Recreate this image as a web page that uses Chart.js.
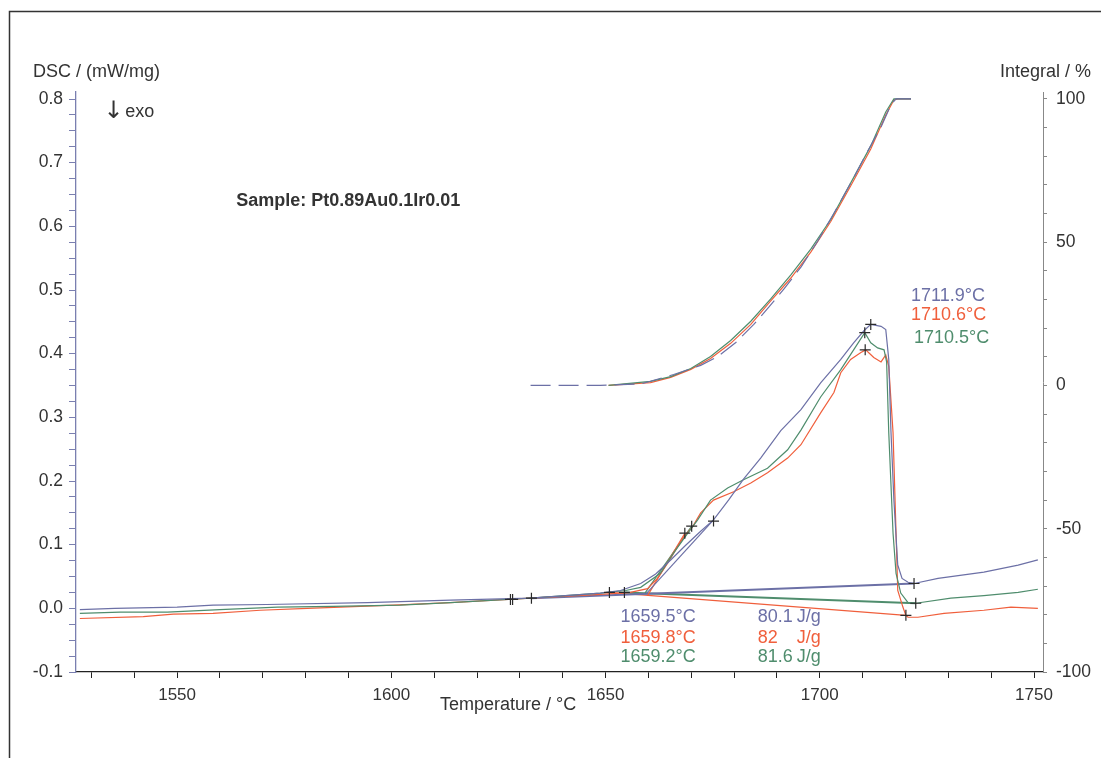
<!DOCTYPE html>
<html>
<head>
<meta charset="utf-8">
<script src="https://cdn.jsdelivr.net/npm/chart.js@4.4.1/dist/chart.umd.min.js"></script>
<style>
  html, body { margin: 0; padding: 0; background: #fff; }
  canvas { display: block; }
</style>
</head>
<body>
<canvas id="dsc" width="1101" height="758"></canvas>
<script>
// DSC curves (temperature / °C, DSC / (mW/mg))
const tBlue = [1527.3, 1535.5, 1550.0, 1558.4, 1571.0, 1594.4, 1613.8, 1632.5, 1648.8, 1653.5, 1658.2, 1661.7, 1665.2, 1668.7, 1672.2, 1675.2, 1678.7, 1682.2, 1686.2, 1690.9, 1695.6, 1700.2, 1704.9, 1707.9, 1710.3, 1711.9, 1714.3, 1715.4, 1716.1, 1716.6, 1717.3, 1718.2, 1719.2, 1720.6, 1722.0, 1727.6, 1738.3, 1746.3, 1750.9];
const dscBlue = [-0.002, 0.000, 0.002, 0.005, 0.006, 0.009, 0.013, 0.016, 0.024, 0.028, 0.039, 0.054, 0.076, 0.099, 0.121, 0.139, 0.170, 0.203, 0.236, 0.279, 0.312, 0.354, 0.391, 0.417, 0.436, 0.446, 0.443, 0.438, 0.391, 0.280, 0.170, 0.068, 0.047, 0.041, 0.039, 0.047, 0.057, 0.068, 0.076];

const tRed = [1527.3, 1542.1, 1549.1, 1558.4, 1569.4, 1580.4, 1588.1, 1600.5, 1613.8, 1632.5, 1648.8, 1655.8, 1659.8, 1662.1, 1664.5, 1668.2, 1670.3, 1672.2, 1675.2, 1679.9, 1683.9, 1687.8, 1692.5, 1695.6, 1700.2, 1703.3, 1704.9, 1707.2, 1709.6, 1710.7, 1712.6, 1714.3, 1715.4, 1716.1, 1717.1, 1717.8, 1718.2, 1719.4, 1720.1, 1720.6, 1722.9, 1729.0, 1738.3, 1744.6, 1750.9];
const dscRed = [-0.016, -0.013, -0.009, -0.008, -0.003, 0.000, 0.002, 0.005, 0.009, 0.016, 0.022, 0.025, 0.031, 0.047, 0.071, 0.112, 0.128, 0.150, 0.170, 0.183, 0.197, 0.213, 0.236, 0.257, 0.307, 0.339, 0.370, 0.391, 0.402, 0.406, 0.394, 0.387, 0.398, 0.380, 0.276, 0.118, 0.028, 0.002, -0.011, -0.014, -0.014, -0.008, -0.003, 0.002, 0.000];

const tGreen = [1527.3, 1536.7, 1547.7, 1560.0, 1573.4, 1586.4, 1602.1, 1613.8, 1632.5, 1648.8, 1654.7, 1658.2, 1662.8, 1665.9, 1669.2, 1671.5, 1674.5, 1678.5, 1682.2, 1687.8, 1692.5, 1695.6, 1700.2, 1704.9, 1707.9, 1710.5, 1711.9, 1713.5, 1715.0, 1715.6, 1716.1, 1717.1, 1717.8, 1718.9, 1720.6, 1722.4, 1730.6, 1738.3, 1746.3, 1750.9];
const dscGreen = [-0.008, -0.006, -0.006, -0.002, 0.002, 0.003, 0.005, 0.009, 0.016, 0.024, 0.028, 0.033, 0.055, 0.087, 0.118, 0.139, 0.170, 0.189, 0.202, 0.220, 0.249, 0.280, 0.332, 0.375, 0.406, 0.433, 0.417, 0.409, 0.406, 0.387, 0.276, 0.118, 0.055, 0.024, 0.009, 0.008, 0.016, 0.020, 0.025, 0.030];

// integration baselines and onset tangents (DSC axis)
const baseBlueT = [1632.7, 1722.0], baseBlue = [0.016, 0.039];
const baseRedT = [1650.9, 1720.1], baseRed = [0.025, -0.011];
const baseGreenT = [1654.4, 1722.4], baseGreen = [0.025, 0.008];
const tanBlueT = [1659.5, 1675.2], tanBlue = [0.023, 0.139];
const tanRedT = [1659.8, 1668.5], tanRed = [0.020, 0.118];
const tanGreenT = [1659.2, 1670.1], tanGreen = [0.024, 0.129];

// partial integrals (Integral / %)
const intBlueT = [1632.5, 1648.8, 1658.2, 1665.9, 1672.2, 1676.2, 1680.4, 1684.6, 1688.1, 1691.6, 1695.6, 1699.5, 1703.3, 1707.9, 1711.2, 1714.3, 1716.6, 1717.8, 1721.3];
const intBlue = [0, 0, 0.5, 3.8, 7.0, 10.1, 15.0, 21.3, 27.3, 33.6, 41.3, 50.3, 60.1, 72.4, 81.8, 90.2, 97.9, 100, 100];
const intT = [1650.7, 1660.5, 1665.2, 1669.9, 1674.5, 1679.2, 1683.9, 1688.5, 1693.2, 1697.9, 1702.6, 1707.2, 1711.9, 1715.4, 1717.3, 1718.2, 1721.3];
const intRed = [0, 1.0, 2.8, 5.6, 9.4, 14.7, 21.3, 29.4, 37.4, 46.5, 57.3, 69.6, 82.5, 94.4, 99.6, 100, 100];
const intGreen = [0, 1.4, 3.1, 5.9, 10.1, 15.7, 22.4, 30.1, 38.5, 47.6, 58.0, 70.6, 83.6, 95.4, 100, 100, 100];

// evaluation markers (+)
const markT = [1627.8, 1628.3, 1632.7, 1650.9, 1654.4, 1668.5, 1670.1, 1675.2, 1710.6, 1710.5, 1711.9, 1720.1, 1722.0, 1722.4];
const markDsc = [0.014, 0.014, 0.016, 0.025, 0.025, 0.118, 0.129, 0.137, 0.406, 0.433, 0.446, -0.011, 0.039, 0.008];

const peakLabels = ['1711.9°C', '1710.6°C', '1710.5°C'];
const onsetLabels = ['1659.5°C', '1659.8°C', '1659.2°C'];
const enthalpyValues = ['80.1', '82', '81.6'];

const colBlue = '#6c70a6';
const colRed = '#f05f3c';
const colGreen = '#4f8d6d';
const colText = '#333333';
const FONT = '"Liberation Sans", Arial, sans-serif';

function pts(xs, ys) {
    return xs.map((x, i) => ({ x: x, y: ys[i] }));
}

function line(xs, ys, color, axis, extra) {
    return Object.assign({
        data: pts(xs, ys),
        borderColor: color,
        borderWidth: 1.2,
        pointRadius: 0,
        tension: 0,
        fill: false,
        yAxisID: axis
    }, extra || {});
}

// texts and frame
const textPlugin = {
    id: 'texts',
    beforeDraw(chart) {
        const ctx = chart.ctx;
        ctx.save();
        ctx.strokeStyle = '#333';
        ctx.lineWidth = 1.5;
        ctx.beginPath();
        ctx.moveTo(9.5, 758);
        ctx.lineTo(9.5, 11.5);
        ctx.lineTo(1101, 11.5);
        ctx.stroke();
        ctx.restore();
    },
    afterDraw(chart) {
        const ctx = chart.ctx;
        const xs = chart.scales.x, ys = chart.scales.y;
        const area = chart.chartArea;
        const px = v => xs.getPixelForValue(v);
        const py = v => ys.getPixelForValue(v);
        ctx.save();
        ctx.textBaseline = 'middle';
        ctx.font = '18px ' + FONT;
        ctx.fillStyle = colText;

        ctx.textAlign = 'left';
        ctx.fillText('DSC / (mW/mg)', 33, area.top - 20);
        ctx.textAlign = 'right';
        ctx.fillText('Integral / %', 1091, area.top - 20);
        ctx.textAlign = 'left';
        ctx.fillText('Temperature / °C', 440, area.bottom + 33);

        ctx.font = '24px "DejaVu Sans", ' + FONT;
        ctx.fillText('\u2193', px(1532.8), py(0.780));
        ctx.font = '18px ' + FONT;
        ctx.fillText('exo', px(1537.9), py(0.780));

        ctx.font = 'bold 18px ' + FONT;
        ctx.fillText('Sample: Pt0.89Au0.1Ir0.01', px(1563.8), py(0.639));

        const cols = [colBlue, colRed, colGreen];
        ctx.font = '18px ' + FONT;
        const peakD = [0.491, 0.460, 0.425];
        const peakT = [1721.3, 1721.3, 1722.0];
        const lowD = [-0.014, -0.046, -0.077];
        cols.forEach((c, i) => {
            ctx.fillStyle = c;
            ctx.fillText(peakLabels[i], px(peakT[i]), py(peakD[i]));
            ctx.fillText(onsetLabels[i], px(1653.5), py(lowD[i]));
            ctx.fillText(enthalpyValues[i], px(1685.5), py(lowD[i]));
            ctx.fillText('J/g', px(1694.6), py(lowD[i]));
        });
        ctx.restore();
    }
};

const ctx = document.getElementById('dsc').getContext('2d');
new Chart(ctx, {
    type: 'line',
    data: {
        datasets: [
            {
                type: 'scatter',
                data: pts(markT, markDsc),
                pointStyle: 'cross',
                pointRadius: 5.5,
                pointBorderWidth: 1.2,
                pointBorderColor: '#2a2a2a',
                showLine: false,
                yAxisID: 'y'
            },
            line(tBlue, dscBlue, colBlue, 'y'),
            line(tGreen, dscGreen, colGreen, 'y'),
            line(tRed, dscRed, colRed, 'y'),
            line(tanBlueT, tanBlue, colBlue, 'y'),
            line(tanRedT, tanRed, colRed, 'y'),
            line(tanGreenT, tanGreen, colGreen, 'y'),
            line(baseBlueT, baseBlue, colBlue, 'y', { borderWidth: 2 }),
            line(baseGreenT, baseGreen, colGreen, 'y', { borderWidth: 2 }),
            line(baseRedT, baseRed, colRed, 'y'),
            line(intBlueT, intBlue, colBlue, 'y1', { borderDash: [20, 8] }),
            line(intT, intGreen, colGreen, 'y1'),
            line(intT, intRed, colRed, 'y1')
        ]
    },
    options: {
        responsive: false,
        animation: false,
        devicePixelRatio: 1,
        layout: { padding: { left: 10, right: 10, top: 92, bottom: 10 } },
        plugins: {
            legend: { display: false },
            tooltip: { enabled: false }
        },
        scales: {
            x: {
                type: 'linear',
                min: 1526.4,
                max: 1752.1,
                afterFit: s => { s.height = 76; },
                border: { color: '#222', width: 1.3 },
                grid: { drawOnChartArea: false, tickLength: 6, color: '#222' },
                ticks: {
                    stepSize: 10,
                    includeBounds: false,
                    autoSkip: false,
                    maxRotation: 0,
                    padding: 7,
                    color: colText,
                    font: { family: FONT, size: 17 },
                    callback: v => (v % 50 === 0 ? String(v) : '')
                }
            },
            y: {
                position: 'left',
                min: -0.1,
                max: 0.811,
                afterFit: s => { s.width = 66; },
                border: { color: '#7a7fb0', width: 1.3 },
                grid: { drawOnChartArea: false, tickLength: 7, color: '#7a7fb0' },
                ticks: {
                    stepSize: 0.025,
                    includeBounds: false,
                    autoSkip: false,
                    padding: 6,
                    color: colText,
                    font: { family: FONT, size: 17.5 },
                    callback: v => {
                        const k = Math.round(v * 10);
                        return Math.abs(v * 10 - k) < 1e-6 ? (k / 10).toFixed(1) : '';
                    }
                }
            },
            y1: {
                position: 'right',
                min: -100,
                max: 102.4,
                afterFit: s => { s.width = 48; },
                border: { color: '#888', width: 1 },
                grid: { drawOnChartArea: false, tickLength: 4, color: '#888' },
                ticks: {
                    stepSize: 10,
                    includeBounds: false,
                    autoSkip: false,
                    padding: 9,
                    color: colText,
                    font: { family: FONT, size: 17.5 },
                    callback: v => (v % 50 === 0 ? String(v) : '')
                }
            }
        }
    },
    plugins: [textPlugin]
});
</script>
</body>
</html>
